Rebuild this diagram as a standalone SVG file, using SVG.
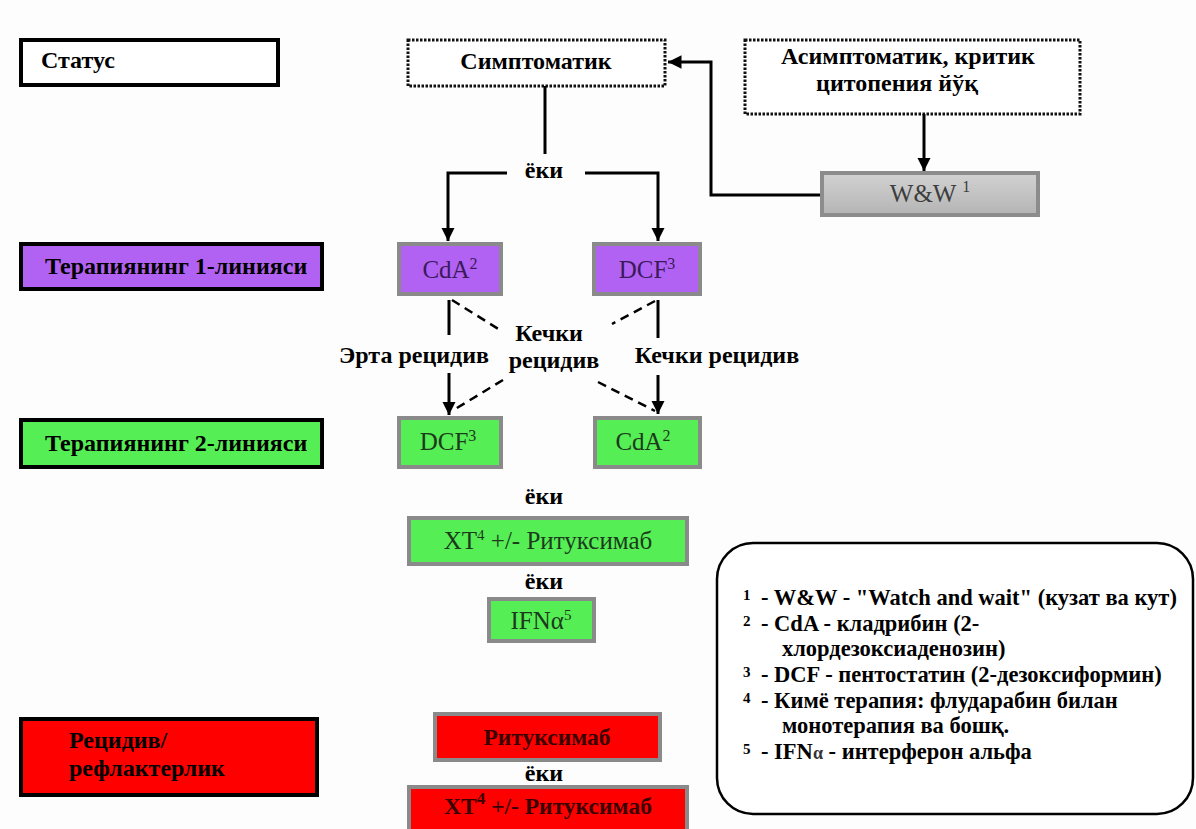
<svg xmlns="http://www.w3.org/2000/svg" width="1196" height="829" viewBox="0 0 1196 829" font-family="'Liberation Serif', 'DejaVu Serif', 'Times New Roman', serif">
<defs>
<marker id="ah" viewBox="0 0 10 10" refX="10" refY="5" markerWidth="4.5" markerHeight="4.5" orient="auto" markerUnits="strokeWidth">
<path d="M0,0 L10,5 L0,10 Z" fill="#000"/>
</marker>
<linearGradient id="gg" x1="0" y1="0" x2="0" y2="1">
<stop offset="0" stop-color="#d2d2d2"/><stop offset="1" stop-color="#b4b4b4"/>
</linearGradient>
<style>
.lbl{font-size:24px;font-weight:bold;fill:#000;}
.hdr{stroke:#000;stroke-width:4;}
.dot{fill:#fff;stroke:#111;stroke-width:3;stroke-dasharray:2.5 1.5;}
.nb{stroke:#8a8a8a;stroke-width:4;}
.pur{fill:#b262f2;}
.grn{fill:#55ee55;}
.red{fill:#ff0000;}
.tp{fill:#3a1a5c;font-size:25px;}
.tg{fill:#1c3a1c;font-size:25px;}
.tr{fill:#3a0000;font-size:23.5px;font-weight:bold;}
.c{fill:none;stroke:#000;stroke-width:3;}
.d{fill:none;stroke:#000;stroke-width:2.5;stroke-dasharray:9 6;}
.leg{font-size:22.5px;font-weight:bold;fill:#000;}
.num{font-size:15px;font-weight:bold;}
</style>
</defs>
<rect width="1196" height="829" fill="#fdfdfd"/>

<g id="status"><rect class="hdr" x="21" y="40" width="257" height="45" fill="#fff"/><text class="lbl" x="41" y="68">Статус</text></g>
<g id="line1"><rect class="hdr pur" x="21" y="244" width="301" height="45"/><text class="lbl" x="45" y="274">Терапиянинг 1-линияси</text></g>
<g id="line2"><rect class="hdr grn" x="21" y="420" width="301" height="47"/><text class="lbl" x="45" y="451">Терапиянинг 2-линияси</text></g>
<g id="relapse"><rect class="hdr red" x="21" y="719" width="296" height="76"/><text class="lbl" x="69" y="748" fill="#2a0000">Рецидив/</text><text class="lbl" x="69" y="776" fill="#2a0000">рефлактерлик</text></g>

<g id="symptomatic"><rect class="dot" x="408" y="40" width="257" height="46"/><text class="lbl" x="536" y="69" text-anchor="middle">Симптоматик</text></g>
<g id="asymptomatic"><rect class="dot" x="745" y="40" width="335" height="74"/><text class="lbl" x="908" y="64" text-anchor="middle">Асимптоматик, критик</text><text class="lbl" x="897" y="91" text-anchor="middle">цитопения йўқ</text></g>
<g id="ww"><rect x="822" y="173" width="216" height="42" fill="url(#gg)" stroke="#8c8c8c" stroke-width="4"/><text x="930" y="202" text-anchor="middle" font-size="25" fill="#3d3d3d">W&amp;W <tspan font-size="16" dy="-10">1</tspan></text></g>

<g id="cda1"><rect class="nb pur" x="399" y="244" width="102" height="50"/><text class="tp" x="450" y="278" text-anchor="middle">CdA<tspan font-size="16" dy="-9">2</tspan></text></g>
<g id="dcf1"><rect class="nb pur" x="594" y="244" width="106" height="50"/><text class="tp" x="647" y="278" text-anchor="middle">DCF<tspan font-size="16" dy="-9">3</tspan></text></g>

<g id="dcf2"><rect class="nb grn" x="399" y="418" width="102" height="49"/><text class="tg" x="448" y="450" text-anchor="middle">DCF<tspan font-size="16" dy="-9">3</tspan></text></g>
<g id="cda2"><rect class="nb grn" x="595" y="418" width="105" height="49"/><text class="tg" x="643" y="450" text-anchor="middle">CdA<tspan font-size="16" dy="-9">2</tspan></text></g>
<g id="xt-green"><rect class="nb grn" x="409" y="518" width="278" height="46"/><text class="tg" x="548" y="549" text-anchor="middle">XT<tspan font-size="15" dy="-9">4</tspan><tspan dy="9"> +/- Ритуксимаб</tspan></text></g>
<g id="ifn"><rect class="nb grn" x="489" y="599" width="105" height="42"/><text class="tg" x="541" y="629" text-anchor="middle">IFNα<tspan font-size="15" dy="-9">5</tspan></text></g>

<g id="rit"><rect class="nb red" x="435" y="714" width="225" height="46"/><text class="tr" x="547" y="745" text-anchor="middle">Ритуксимаб</text></g>
<g id="xt-red"><rect class="nb red" x="409" y="787" width="278" height="50"/><text class="tr" x="548" y="814" text-anchor="middle">XT<tspan font-size="17" dy="-10">4</tspan><tspan dy="10"> +/- Ритуксимаб</tspan></text></g>

<g id="labels">
<text class="lbl" x="544" y="178" text-anchor="middle">ёки</text>
<text class="lbl" x="549" y="341" text-anchor="middle">Кечки</text>
<text class="lbl" x="554" y="368" text-anchor="middle">рецидив</text>
<text class="lbl" x="414" y="363" text-anchor="middle">Эрта рецидив</text>
<text class="lbl" x="717" y="363" text-anchor="middle">Кечки рецидив</text>
<text class="lbl" x="544" y="504" text-anchor="middle">ёки</text>
<text class="lbl" x="544" y="589" text-anchor="middle">ёки</text>
<text class="lbl" x="544" y="781" text-anchor="middle">ёки</text>
</g>

<g id="connectors">
<line class="c" x1="924" y1="114" x2="924" y2="171" stroke-width="2.5" marker-end="url(#ah)"/>
<path class="c" d="M820 195 H711 V62 H668" marker-end="url(#ah)"/>
<path class="c" d="M545 86 V154"/>
<path class="c" d="M507 173 H448 V241" marker-end="url(#ah)"/>
<path class="c" d="M585 173 H658 V241" marker-end="url(#ah)"/>
<path class="c" d="M449 300 V335"/>
<path class="c" d="M449 373 V415" marker-end="url(#ah)"/>
<path class="c" d="M658 300 V338"/>
<path class="c" d="M658 375 V414" marker-end="url(#ah)"/>
<path class="d" d="M452 300 L500 330"/>
<path class="d" d="M503 380 L452 411"/>
<path class="d" d="M655 301 L612 324"/>
<path class="d" d="M598 382 L655 411"/>
</g>

<g id="legend">
<rect x="717" y="543" width="476" height="271" rx="36" fill="#fff" stroke="#000" stroke-width="2.5"/>
<text class="num" x="743" y="600">1</text><text class="leg" x="761" y="605">- W&amp;W - "Watch and wait" (кузат ва кут)</text>
<text class="num" x="743" y="626">2</text><text class="leg" x="761" y="631">- CdA - кладрибин (2-</text>
<text class="leg" x="782" y="656">хлордезоксиаденозин)</text>
<text class="num" x="743" y="677">3</text><text class="leg" x="761" y="682">- DCF - пентостатин (2-дезоксиформин)</text>
<text class="num" x="743" y="703">4</text><text class="leg" x="761" y="708">- Кимё терапия: флударабин билан</text>
<text class="leg" x="782" y="733">монотерапия ва бошқ.</text>
<text class="num" x="743" y="754">5</text><text class="leg" x="761" y="759">- IFN<tspan font-size="18" fill="#333">α</tspan> - интерферон альфа</text>
</g>
</svg>
